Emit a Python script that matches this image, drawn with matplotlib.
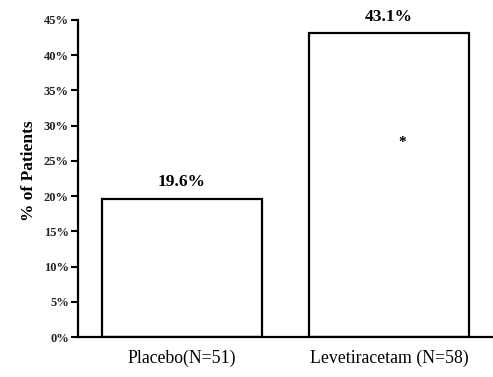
import matplotlib
matplotlib.use('Agg')
import matplotlib.pyplot as plt
from matplotlib.ticker import FuncFormatter

groups = ['Placebo(N=51)', 'Levetiracetam (N=58)']
values = [19.6, 43.1]
value_labels = ['19.6%', '43.1%']
yticks = [0, 5, 10, 15, 20, 25, 30, 35, 40, 45]
star_pos = (1.06, 27.6)

plt.rcParams['font.family'] = ['Liberation Serif', 'DejaVu Serif']

fig = plt.figure(figsize=(4.93, 3.77), dpi=100)
ax = fig.add_axes([0.158, 0.106, 0.842, 0.841])

x = list(range(len(groups)))
ax.bar(x, values, width=0.77, color='white', edgecolor='black', linewidth=1.6)

for xi, v, lab in zip(x, values, value_labels):
    ax.text(xi, v + 1.2, lab, ha='center', va='bottom', fontsize=12.5, fontweight='bold')

# significance marker
ax.text(star_pos[0], star_pos[1], '*', ha='center', va='center', fontsize=11, fontweight='bold')

ax.set_xlim(-0.5, 1.5)
ax.set_ylim(0, 45)
ax.set_yticks(yticks)
ax.yaxis.set_major_formatter(FuncFormatter(lambda v, p: '%d%%' % v))
for t in ax.get_yticklabels():
    t.set_fontweight('bold')
    t.set_fontsize(9)
    t.set_color('#222222')
ax.set_xticks(x)
ax.set_xticklabels(groups, fontsize=12.8)
ax.tick_params(axis='x', length=0, pad=9)
ax.tick_params(axis='y', length=5, width=1.5, direction='out', pad=1.5)
ax.set_ylabel('% of Patients', fontsize=12.5, fontweight='bold')
ax.yaxis.set_label_coords(-0.098, 0.525)

ax.spines['top'].set_visible(False)
ax.spines['right'].set_visible(False)
ax.spines['left'].set_linewidth(1.6)
ax.spines['bottom'].set_linewidth(1.6)

fig.savefig('out.png', dpi=100)
